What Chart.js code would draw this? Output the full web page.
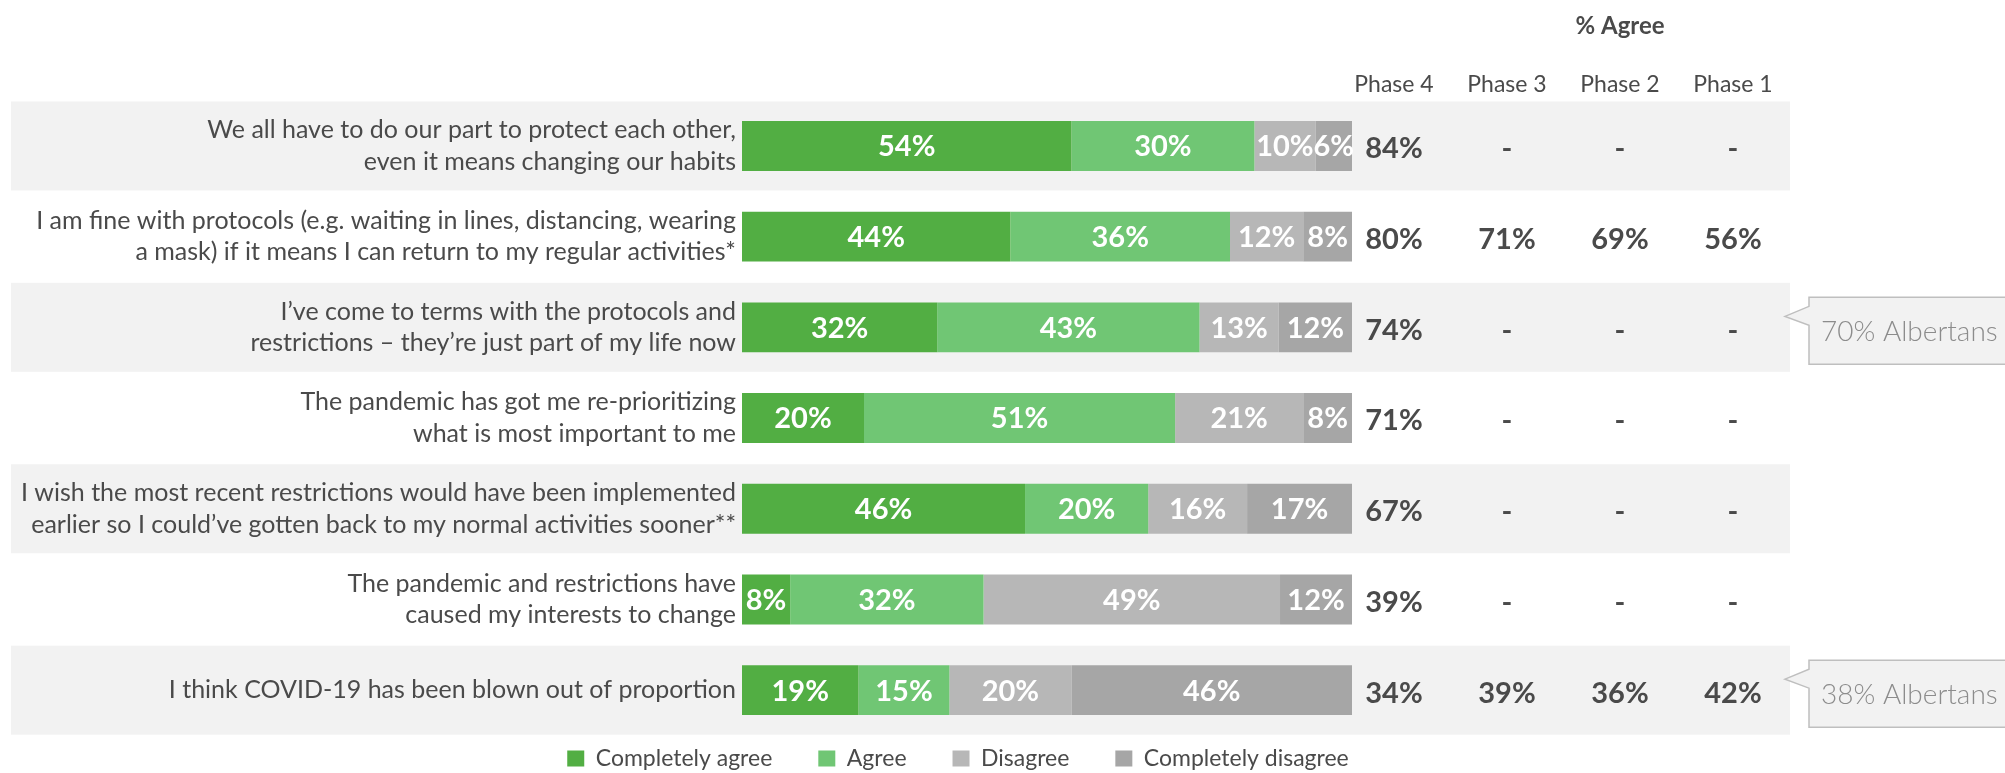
<!DOCTYPE html>
<html>
<head>
<meta charset="utf-8">
<script src="https://cdn.jsdelivr.net/npm/chart.js@4.4.1/dist/chart.umd.min.js"></script>
<style>
  html, body { margin: 0; padding: 0; background: #fff; }
  #wrap { width: 2005px; height: 773px; }
</style>
</head>
<body>
<div id="wrap"><canvas id="agreeChart" width="2005" height="773"></canvas></div>
<script>
// statements (y categories), wrapped the way the slide wraps them
const statements = [
  ['We all have to do our part to protect each other,', 'even it means changing our habits'],
  ['I am fine with protocols (e.g. waiting in lines, distancing, wearing', 'a mask) if it means I can return to my regular activities*'],
  ['I\u2019ve come to terms with the protocols and', 'restrictions \u2013 they\u2019re just part of my life now'],
  ['The pandemic has got me re-prioritizing', 'what is most important to me'],
  ['I wish the most recent restrictions would have been implemented', 'earlier so I could\u2019ve gotten back to my normal activities sooner**'],
  ['The pandemic and restrictions have', 'caused my interests to change'],
  'I think COVID-19 has been blown out of proportion'
];

const seriesNames = ['Completely agree', 'Agree', 'Disagree', 'Completely disagree'];
const completelyAgree = [54, 44, 32, 20, 46.4, 7.9, 19.1];
const agree = [30, 36, 43, 51, 20.2, 31.7, 14.9];
const disagree = [10, 12, 13, 21, 16.2, 48.6, 20];
const completelyDisagree = [6, 8, 12, 8, 17.2, 11.8, 46];

// % agree by phase (null = not asked)
const phaseHeaders = ['Phase 4', 'Phase 3', 'Phase 2', 'Phase 1'];
const phase4 = [84, 80, 74, 71, 67, 39, 34];
const phase3 = [null, 71, null, null, null, null, 39];
const phase2 = [null, 69, null, null, null, null, 36];
const phase1 = [null, 56, null, null, null, null, 42];

// Alberta comparison callouts
const albertaRows = [2, 6];
const albertaText = ['70% Albertans', '38% Albertans'];

const colors = ['#52ae43', '#70c674', '#b7b7b7', '#a6a6a6'];
const FONT = 'Lato, "Open Sans", sans-serif';
const TEXT = '#4a4a4a';

const rowBands = {
  id: 'rowBands',
  beforeDraw(chart) {
    const { ctx } = chart;
    const y = chart.scales.y;
    ctx.save();
    ctx.fillStyle = '#f2f2f2';
    statements.forEach((s, i) => {
      if (i % 2) return;
      const c = y.getPixelForValue(i);
      ctx.fillRect(11, c - 44.5, 1779, 89);
    });
    ctx.restore();
  }
};

const barLabels = {
  id: 'barLabels',
  afterDatasetsDraw(chart) {
    const { ctx } = chart;
    ctx.save();
    ctx.font = 'bold 29px ' + FONT;
    ctx.fillStyle = '#ffffff';
    ctx.textAlign = 'center';
    ctx.textBaseline = 'middle';
    chart.data.datasets.forEach((ds, di) => {
      chart.getDatasetMeta(di).data.forEach((bar, i) => {
        ctx.fillText(Math.round(ds.data[i]) + '%', (bar.x + bar.base) / 2, bar.y + 1);
      });
    });
    ctx.restore();
  }
};

const phaseTable = {
  id: 'phaseTable',
  afterDraw(chart) {
    const { ctx } = chart;
    const y = chart.scales.y;
    const colX = [1394, 1507, 1620, 1733];
    const cols = [phase4, phase3, phase2, phase1];
    ctx.save();
    ctx.textAlign = 'center';
    ctx.textBaseline = 'middle';
    ctx.fillStyle = TEXT;
    ctx.font = 'bold 24px ' + FONT;
    ctx.fillText('% Agree', 1620, 26);
    ctx.font = '23px ' + FONT;
    phaseHeaders.forEach((h, ci) => ctx.fillText(h, colX[ci], 85));
    ctx.font = 'bold 29px ' + FONT;
    cols.forEach((col, ci) => {
      col.forEach((v, i) => {
        const c = y.getPixelForValue(i) + 3;
        ctx.fillText(v == null ? '-' : v + '%', colX[ci], c);
      });
    });

    // callouts
    albertaRows.forEach((r, k) => {
      const c = y.getPixelForValue(r);
      const top = c - 30, h = 67, left = 1809;
      ctx.beginPath();
      ctx.moveTo(2015, top);
      ctx.lineTo(left, top);
      ctx.lineTo(left, top + 9);
      ctx.lineTo(1785, top + 19);
      ctx.lineTo(left, top + 28);
      ctx.lineTo(left, top + h);
      ctx.lineTo(2015, top + h);
      ctx.closePath();
      ctx.fillStyle = '#f2f2f2';
      ctx.fill();
      ctx.strokeStyle = '#bfbfbf';
      ctx.lineWidth = 1.5;
      ctx.stroke();
      ctx.fillStyle = '#8c8c8c';
      ctx.font = '300 28px ' + FONT;
      ctx.textAlign = 'left';
      ctx.fillText(albertaText[k], 1821, top + h / 2 + 1);
      ctx.textAlign = 'center';
    });
    ctx.restore();
  }
};

// legend items sit closer to the bars than Chart.js would put them
const legendNudge = {
  id: 'legendNudge',
  afterLayout(chart) {
    chart.legend.top -= 34.5;
  }
};

const seriesValues = [completelyAgree, agree, disagree, completelyDisagree];

new Chart(document.getElementById('agreeChart'), {
  type: 'bar',
  data: {
    labels: statements,
    datasets: seriesNames.map((name, i) => ({
      label: name,
      data: seriesValues[i],
      backgroundColor: colors[i],
      borderWidth: 0,
      barPercentage: 1,
      categoryPercentage: 0.55,
      clip: 0
    }))
  },
  options: {
    indexAxis: 'y',
    responsive: false,
    animation: false,
    layout: { padding: { top: 100.6, right: 89, left: 0, bottom: 0 } },
    scales: {
      x: { stacked: true, min: 0, max: 100, display: false },
      y: {
        stacked: true,
        grid: { display: false, drawTicks: false },
        border: { display: false },
        ticks: {
          autoSkip: false,
          padding: 6,
          color: TEXT,
          font: { family: FONT, size: 25, lineHeight: 1.26 }
        },
        afterFit(scale) { scale.width = 742; }
      },
      phaseArea: {
        axis: 'y',
        position: 'right',
        grid: { display: false, drawTicks: false },
        border: { display: false },
        ticks: { display: false },
        afterFit(scale) { scale.width = 564; }
      }
    },
    plugins: {
      tooltip: { enabled: false },
      legend: {
        position: 'bottom',
        maxHeight: 37,
        labels: {
          boxWidth: 17,
          boxHeight: 16,
          padding: 46,
          color: TEXT,
          font: { family: FONT, size: 23 }
        }
      }
    }
  },
  plugins: [rowBands, barLabels, phaseTable, legendNudge]
});
</script>
</body>
</html>
